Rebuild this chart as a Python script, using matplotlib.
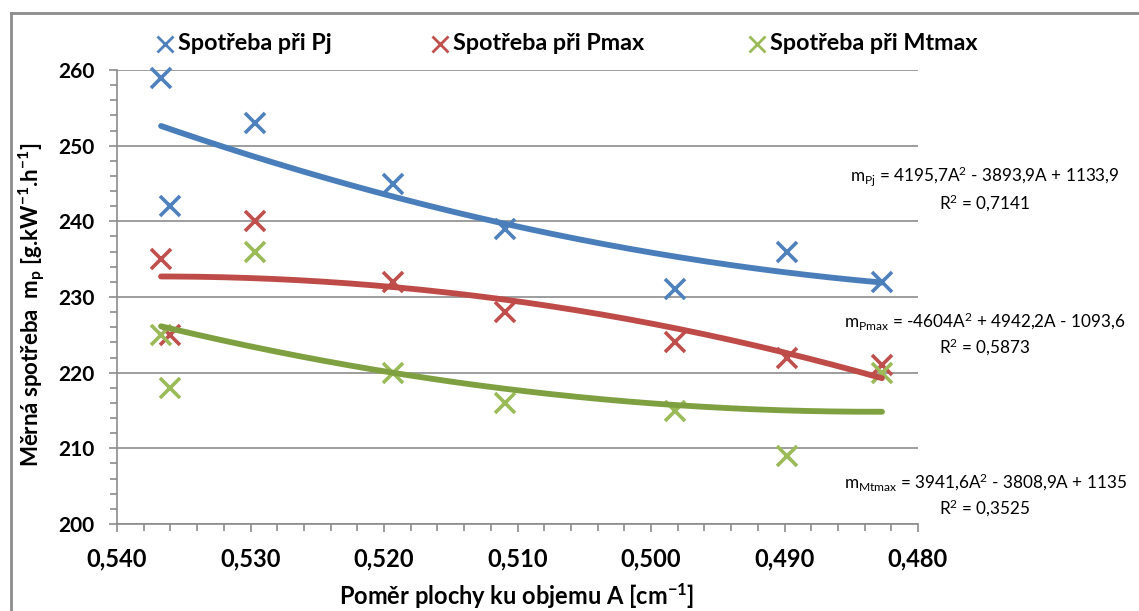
import numpy as np
import matplotlib
matplotlib.use("Agg")
import matplotlib.pyplot as plt
from matplotlib.lines import Line2D
from matplotlib.ticker import MultipleLocator, FuncFormatter

plt.rcParams['font.family'] = ['Lato', 'DejaVu Sans']
plt.rcParams['mathtext.fontset'] = 'custom'
plt.rcParams['mathtext.rm'] = 'Lato'
plt.rcParams['mathtext.it'] = 'Lato:italic'
plt.rcParams['mathtext.bf'] = 'Lato:bold'

# ---- data ----
ratio_A = [0.5367, 0.5360, 0.5297, 0.5193, 0.5109, 0.4982, 0.4898, 0.4827]
spotreba_Pj = [259, 242, 253, 245, 239, 231, 236, 232]
spotreba_Pmax = [235, 225, 240, 232, 228, 224, 222, 221]
spotreba_Mtmax = [225, 218, 236, 220, 216, 215, 209, 220]

series_names = ["Spotřeba při Pj", "Spotřeba při Pmax", "Spotřeba při Mtmax"]
# trendline coefficients (a2, a1, a0) as printed on the chart
coef_Pj = [4195.7, -3893.9, 1133.9]
coef_Pmax = [-4604.0, 4942.2, -1093.6]
coef_Mtmax = [3941.6, -3808.9, 1135.0]
equations = [
    r"m$_{\mathrm{Pj}}$ = 4195,7A$^{2}$ - 3893,9A + 1133,9" + "\n" + r"R$^{2}$ = 0,7141",
    r"m$_{\mathrm{Pmax}}$ = -4604A$^{2}$ + 4942,2A - 1093,6" + "\n" + r"R$^{2}$ = 0,5873",
    r"m$_{\mathrm{Mtmax}}$ = 3941,6A$^{2}$ - 3808,9A + 1135" + "\n" + r"R$^{2}$ = 0,3525",
]

marker_colors = ["#4F81BD", "#C0504D", "#9BBB59"]
line_colors = ["#4A7EBB", "#BE4B48", "#7FA040"]

W, H = 1139, 611
fig = plt.figure(figsize=(W / 100, H / 100), dpi=100)
ax = fig.add_axes([117 / W, 1 - 524 / H, (918 - 117) / W, (524 - 70) / H])

xs = np.array(ratio_A)
xfit = np.linspace(xs.min(), xs.max(), 200)
all_series = [spotreba_Pj, spotreba_Pmax, spotreba_Mtmax]
all_coef = [coef_Pj, coef_Pmax, coef_Mtmax]
for ys, c, mc, lc in zip(all_series, all_coef, marker_colors, line_colors):
    ax.plot(xs, ys, linestyle='none', marker='x', markersize=14,
            markeredgewidth=2.6, color=mc, zorder=3, clip_on=False)
    ax.plot(xfit, np.polyval(c, xfit), color=lc, linewidth=4.2,
            solid_capstyle='round', zorder=4)

ax.set_xlim(0.540, 0.480)
ax.set_ylim(200, 260)
ax.xaxis.set_major_locator(MultipleLocator(0.01))
ax.xaxis.set_minor_locator(MultipleLocator(0.002))
ax.yaxis.set_major_locator(MultipleLocator(10))
ax.yaxis.set_minor_locator(MultipleLocator(2))
ax.xaxis.set_major_formatter(FuncFormatter(lambda v, p: f"{v:.3f}".replace('.', ',')))
ax.yaxis.set_major_formatter(FuncFormatter(lambda v, p: f"{v:.0f}"))

ax.grid(axis='y', which='major', color='#8C8C8C', linewidth=1.2)
ax.set_axisbelow(True)
for s in ['top', 'right']:
    ax.spines[s].set_visible(False)
for s in ['left', 'bottom']:
    ax.spines[s].set_color('#8C8C8C')
    ax.spines[s].set_linewidth(1.2)
ax.tick_params(axis='both', which='major', length=6, width=1.2, color='#8C8C8C',
               direction='out')
ax.tick_params(axis='both', which='minor', length=5, width=1.2, color='#8C8C8C',
               direction='out')
ax.tick_params(axis='y', which='major', labelsize=15, pad=10)
ax.tick_params(axis='x', which='major', labelsize=17, pad=11)
for lab in ax.get_yticklabels() + ax.get_xticklabels():
    lab.set_fontweight('bold')

# axis titles
fig.text(517 / W, 1 - 596 / H, r"Poměr plochy ku objemu A [cm$\mathbf{^{-1}}$]",
         fontsize=17, fontweight='bold', ha='center', va='center')
fig.text(32 / W, 1 - 305 / H,
         r"Měrná spotřeba  m$\mathbf{_{p}}$ [g.kW$\mathbf{^{-1}}$.h$\mathbf{^{-1}}$]",
         fontsize=16, fontweight='bold', ha='center', va='center', rotation=90)

# legend (placed entry by entry)
legend_marker_x = [165, 440, 757]
legend_y = 1 - 44 / H
for name, c, mx in zip(series_names, marker_colors, legend_marker_x):
    fig.add_artist(Line2D([mx / W], [legend_y], linestyle='none', marker='x',
                          markersize=11, markeredgewidth=2.0, color=c,
                          transform=fig.transFigure))
    fig.text((mx + 13) / W, legend_y, name, ha='left', va='center',
             fontsize=16.8, fontweight='bold')

# equations
eq_y = [189, 334, 495]
for txt, y in zip(equations, eq_y):
    fig.text(985 / W, 1 - y / H, txt, ha='center', va='center',
             multialignment='center', fontsize=12.3, linespacing=1.3)

# outer chart border
fig.add_artist(Line2D([11 / W, 1], [1 - 13 / H, 1 - 13 / H], color='#8C8C8C',
                      linewidth=2, transform=fig.transFigure))
fig.add_artist(Line2D([11 / W, 11 / W], [0, 1 - 13 / H], color='#8C8C8C',
                      linewidth=2, transform=fig.transFigure))

fig.savefig("out.png", dpi=100)
